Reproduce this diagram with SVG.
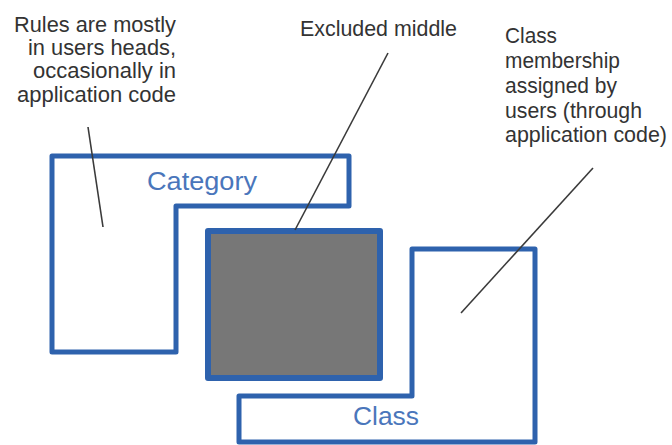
<svg xmlns="http://www.w3.org/2000/svg" width="672" height="445" viewBox="0 0 672 445">
  <style>
    .outline { fill: #ffffff; stroke: #2e62ad; stroke-width: 5; stroke-linejoin: round; }
    .core { fill: #777777; stroke: #2e62ad; stroke-width: 6; stroke-linejoin: round; }
    .name { font-family: "Liberation Sans", Arial, sans-serif; font-size: 25px; fill: #4a76bb; }
    .note { font-family: "Liberation Sans", Arial, sans-serif; font-size: 22px; fill: #333333; }
    .leader { stroke: #3a3a3a; stroke-width: 1.6; fill: none; }
  </style>
  <rect width="672" height="445" fill="#ffffff"/>

  <g id="category">
    <path class="outline" d="M52,156 H349 V206 H176 V352 H52 Z"/>
    <text class="name" x="147" y="190" textLength="110" lengthAdjust="spacingAndGlyphs">Category</text>
  </g>

  <g id="class">
    <path class="outline" d="M412,249 H535 V442 H239 V396 H412 Z"/>
    <text class="name" x="353" y="425" textLength="66" lengthAdjust="spacingAndGlyphs">Class</text>
  </g>

  <g id="excluded-middle">
    <rect class="core" x="208" y="231" width="172" height="147"/>
  </g>

  <g id="note-rules" class="note">
    <text x="14" y="32" textLength="162" lengthAdjust="spacingAndGlyphs">Rules are mostly</text>
    <text x="28" y="55" textLength="148" lengthAdjust="spacingAndGlyphs">in users heads,</text>
    <text x="33" y="78" textLength="143" lengthAdjust="spacingAndGlyphs">occasionally in</text>
    <text x="17" y="102" textLength="159" lengthAdjust="spacingAndGlyphs">application code</text>
  </g>

  <g id="note-excluded" class="note">
    <text x="300" y="36" textLength="157" lengthAdjust="spacingAndGlyphs">Excluded middle</text>
  </g>

  <g id="note-membership" class="note">
    <text x="505" y="43" textLength="52" lengthAdjust="spacingAndGlyphs">Class</text>
    <text x="505" y="68" textLength="115" lengthAdjust="spacingAndGlyphs">membership</text>
    <text x="505" y="93" textLength="112" lengthAdjust="spacingAndGlyphs">assigned by</text>
    <text x="505" y="118" textLength="137" lengthAdjust="spacingAndGlyphs">users (through</text>
    <text x="505" y="142" textLength="162" lengthAdjust="spacingAndGlyphs">application code)</text>
  </g>

  <g id="connectors">
    <line class="leader" x1="88" y1="127" x2="103" y2="227"/>
    <line class="leader" x1="388" y1="53" x2="295" y2="230"/>
    <line class="leader" x1="593" y1="168" x2="461" y2="313"/>
  </g>
</svg>
